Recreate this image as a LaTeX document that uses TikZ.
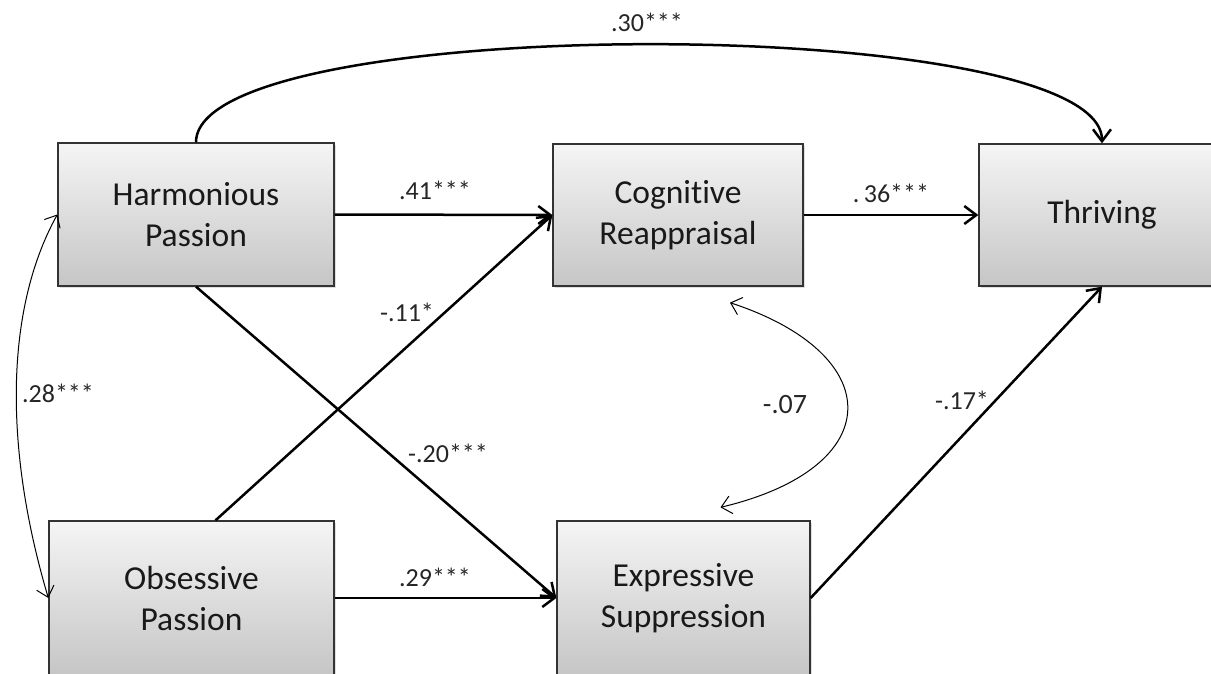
\documentclass[tikz,border=0pt]{standalone}
\usepackage{fontspec}
\setmainfont[Ligatures=NoCommon]{Carlito}
\usetikzlibrary{arrows.meta,shadows}
\begin{document}
\begin{tikzpicture}[x=1pt,y=-1pt,
	box/.style={draw=black!80, line width=1.3pt, top color=gray!8, bottom color=gray!45, drop shadow={shadow xshift=2pt, shadow yshift=-2pt, opacity=0.25}, align=center, text=black!90, inner sep=0pt, font=\fontsize{33.5}{41}\selectfont},
	arr/.style={line width=2.5pt, -{Straight Barb[length=12pt,width=18pt]}},
	cov/.style={line width=1pt, {Straight Barb[length=10pt,width=18pt]}-{Straight Barb[length=10pt,width=18pt]}},
	coef/.style={text=black!85, inner sep=0pt, font=\fontsize{26}{30}\selectfont}]
				\useasboundingbox[fill=white] (0,0) rectangle (1211,674);
				\node[box, minimum width=276pt, minimum height=143pt] (hp) at (196,214.5) {Harmonious\\Passion};
				\node[box, minimum width=250pt, minimum height=142pt] (cr) at (678,215) {Cognitive\\Reappraisal};
				\node[box, minimum width=246pt, minimum height=142pt] (th) at (1102,215) {Thriving};
				\node[box, minimum width=285pt, minimum height=154pt] (op) at (191.5,598) {Obsessive\\Passion};
				\node[box, minimum width=253pt, minimum height=154pt] (es) at (683.5,598) {Expressive\\Suppression};
				\draw[arr] (hp.north) .. controls +(0,-131) and +(0,-131) .. (th.north);
				\draw[arr] (hp.east) -- (cr.west);
				\draw[arr] (cr.east) -- (th.west);
				\draw[arr] ([xshift=24pt]op.north) -- (cr.west);
				\draw[arr] (hp.south) -- (es.west);
				\draw[arr] (op.east) -- (es.west);
				\draw[arr] (es.east) -- (th.south);
				\draw[cov] (hp.west) .. controls +(-53,96) and +(-44,-148) .. (op.west);
				\draw[cov] ([xshift=52pt,yshift=-16pt]cr.south) .. controls +(158,52) and +(168,-40) .. ([xshift=37pt,yshift=13pt]es.north);
				\node[coef] (c30) at (647,22) {.30***};
				\node[coef] (c41) at (435,190) {.41***};
				\node[coef] (c36) at (891,193) {.\,36***};
				\node[coef] (c11) at (407,312) {-.11*};
				\node[coef] (c20) at (448,453) {-.20***};
				\node[coef] (c29) at (435,577) {.29***};
				\node[coef] (c17) at (962,400) {-.17*};
				\node[coef, font=\fontsize{28}{32}\selectfont] (c07) at (785,405) {-.07};
				\node[coef] (c28) at (58,393) {.28***};
\end{tikzpicture}
\end{document}
